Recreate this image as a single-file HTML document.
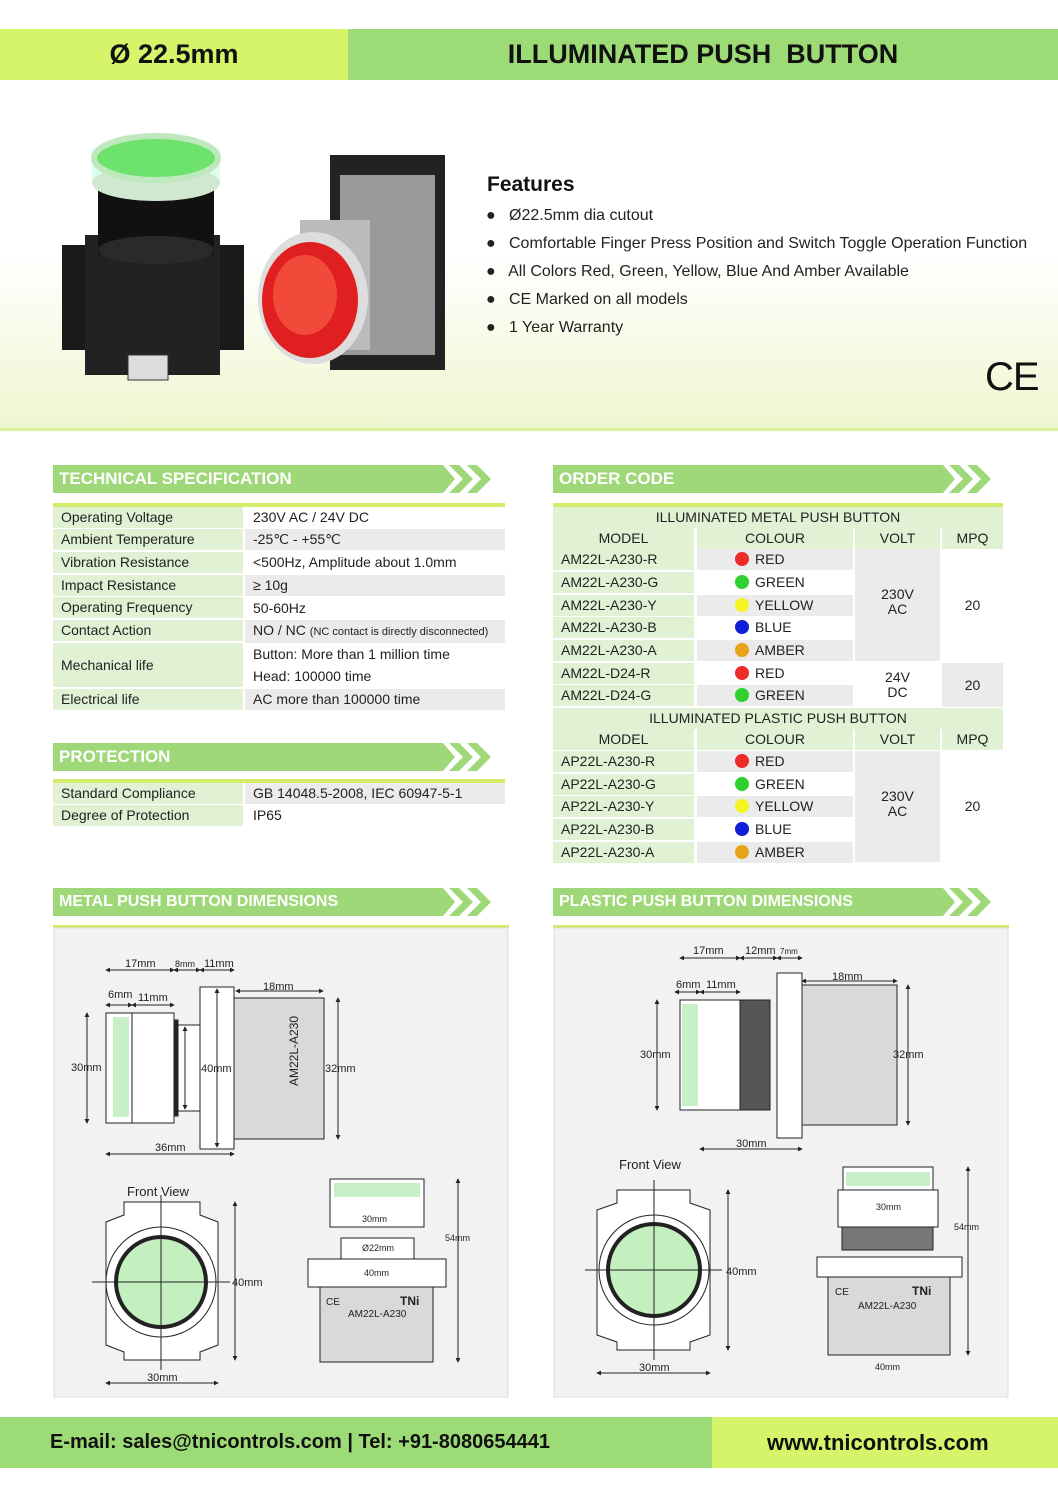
<!DOCTYPE html>
<html><head><meta charset="utf-8"><style>
*{margin:0;padding:0;box-sizing:border-box}
body{width:1058px;height:1497px;position:relative;background:#fff;font-family:"Liberation Sans",sans-serif;overflow:hidden}
.a{position:absolute}
.hd{position:absolute;height:28px;background:#9ed878;color:#fff;font-weight:bold;font-size:17px;line-height:28px;padding-left:6px}
.ln{position:absolute;height:4px;background:#d3ec6a}
.c{position:absolute;font-size:14px;line-height:21px;color:#222;padding-left:8px;white-space:nowrap}
.g{background:#e0f1d4}.w{background:#fff}.k{background:#ebebeb}
.ct{text-align:center;padding-left:0}
.dot{display:inline-block;width:14px;height:14px;border-radius:50%;vertical-align:-2px;margin-right:6px}
</style></head><body>
<div class="a" style="left:0;top:80px;width:1058px;height:350px;background:linear-gradient(#fff 0%,#fff 50%,#eef6cf 100%)"></div>
<div class="a" style="left:0;top:428px;width:1058px;height:3px;background:#d9ef9a"></div>
<div class="a" style="left:0;top:29px;width:348px;height:51px;background:#d5f46a;text-align:center;font-weight:bold;font-size:27px;line-height:51px;color:#111">Ø 22.5mm</div>
<div class="a" style="left:348px;top:29px;width:710px;height:51px;background:#9ddb76;text-align:center;font-weight:bold;font-size:27px;line-height:51px;color:#111">ILLUMINATED PUSH&nbsp; BUTTON</div>

<svg class="a" style="left:50px;top:125px" width="420" height="270" viewBox="50 125 420 270">
<rect x="62" y="245" width="182" height="105" fill="#1a1a1a"/>
<rect x="85" y="235" width="135" height="140" fill="#222"/>
<rect x="128" y="355" width="40" height="25" fill="#ddd" stroke="#333"/>
<rect x="98" y="170" width="116" height="85" fill="#111"/>
<ellipse cx="156" cy="250" rx="58" ry="14" fill="#2a2a2a"/>
<rect x="92" y="150" width="128" height="35" fill="#dfe"/>
<ellipse cx="156" cy="183" rx="64" ry="18" fill="#cfe8cf"/>
<ellipse cx="156" cy="158" rx="62" ry="22" fill="#6de36d" stroke="#bfe8bf" stroke-width="6"/>
<rect x="330" y="155" width="115" height="215" fill="#222"/>
<rect x="340" y="175" width="95" height="180" fill="#9a9a9a"/>
<rect x="300" y="220" width="70" height="130" fill="#bbb"/>
<ellipse cx="313" cy="298" rx="55" ry="66" fill="#ddd"/>
<ellipse cx="310" cy="300" rx="48" ry="58" fill="#e02020"/>
<ellipse cx="305" cy="295" rx="32" ry="40" fill="#f24a3a"/>
</svg>

<div class="a" style="left:487px;top:173px;font-weight:bold;font-size:21px;color:#111">Features</div>
<div class="a" style="left:486px;top:202px;font-size:16px;line-height:28px;color:#222">
<div>●&nbsp;&nbsp; Ø22.5mm dia cutout</div>
<div>●&nbsp;&nbsp; Comfortable Finger Press Position and Switch Toggle Operation Function</div>
<div>●&nbsp;&nbsp; All Colors Red, Green, Yellow, Blue And Amber Available</div>
<div>●&nbsp;&nbsp; CE Marked on all models</div>
<div>●&nbsp;&nbsp; 1 Year Warranty</div>
</div>
<div class="a" style="left:985px;top:355px;font-size:40px;color:#111;letter-spacing:-1px">CE</div>

<div class="hd" style="left:53px;top:465px;width:385px">TECHNICAL SPECIFICATION</div>
<svg class="a" style="left:435px;top:465px" width="60" height="30"><polygon points="0,0 8,0 20,14 8,28 0,28" fill="#9ed878"/><polygon points="14,0 24,0 38,14 24,28 14,28 28,14" fill="#9ed878"/><polygon points="32,0 42,0 56,14 42,28 32,28 46,14" fill="#9ed878"/></svg>
<div class="ln" style="left:53px;top:503px;width:452px"></div>
<div class="c g" style="left:53px;top:507px;width:190px">Operating Voltage</div><div class="c w" style="left:245px;top:507px;width:260px">230V AC / 24V DC</div>
<div class="c g" style="left:53px;top:529px;width:190px">Ambient Temperature</div><div class="c k" style="left:245px;top:529px;width:260px">-25℃ - +55℃</div>
<div class="c g" style="left:53px;top:552px;width:190px">Vibration Resistance</div><div class="c w" style="left:245px;top:552px;width:260px">&lt;500Hz, Amplitude about 1.0mm</div>
<div class="c g" style="left:53px;top:575px;width:190px">Impact Resistance</div><div class="c k" style="left:245px;top:575px;width:260px">≥ 10g</div>
<div class="c g" style="left:53px;top:597px;width:190px">Operating Frequency</div><div class="c w" style="left:245px;top:598px;width:260px">50-60Hz</div>
<div class="c g" style="left:53px;top:620px;width:190px">Contact Action</div><div class="c k" style="left:245px;top:620px;width:260px">NO / NC <span style="font-size:11px">(NC contact is directly disconnected)</span></div>
<div class="c g" style="left:53px;top:643px;width:190px;height:44px;line-height:44px">Mechanical life</div><div class="c w" style="left:245px;top:643px;width:260px;height:44px;line-height:22px">Button: More than 1 million time<br>Head: 100000 time</div>
<div class="c g" style="left:53px;top:689px;width:190px">Electrical life</div><div class="c k" style="left:245px;top:689px;width:260px">AC more than 100000 time</div>

<div class="hd" style="left:53px;top:743px;width:385px">PROTECTION</div>
<svg class="a" style="left:435px;top:743px" width="60" height="30"><polygon points="0,0 8,0 20,14 8,28 0,28" fill="#9ed878"/><polygon points="14,0 24,0 38,14 24,28 14,28 28,14" fill="#9ed878"/><polygon points="32,0 42,0 56,14 42,28 32,28 46,14" fill="#9ed878"/></svg>
<div class="ln" style="left:53px;top:779px;width:452px"></div>
<div class="c g" style="left:53px;top:783px;width:190px">Standard Compliance</div><div class="c k" style="left:245px;top:783px;width:260px">GB 14048.5-2008, IEC 60947-5-1</div>
<div class="c g" style="left:53px;top:805px;width:190px">Degree of Protection</div><div class="c w" style="left:245px;top:805px;width:260px">IP65</div>

<div class="hd" style="left:553px;top:465px;width:385px">ORDER CODE</div>
<svg class="a" style="left:935px;top:465px" width="60" height="30"><polygon points="0,0 8,0 20,14 8,28 0,28" fill="#9ed878"/><polygon points="14,0 24,0 38,14 24,28 14,28 28,14" fill="#9ed878"/><polygon points="32,0 42,0 56,14 42,28 32,28 46,14" fill="#9ed878"/></svg>
<div class="ln" style="left:553px;top:503px;width:450px"></div>
<div class="c g ct" style="left:553px;top:507px;width:450px">ILLUMINATED METAL PUSH BUTTON</div>
<div class="c g ct" style="left:553px;top:528px;width:141px">MODEL</div><div class="c g ct" style="left:697px;top:528px;width:156px">COLOUR</div><div class="c g ct" style="left:855px;top:528px;width:85px">VOLT</div><div class="c g ct" style="left:942px;top:528px;width:61px">MPQ</div>
<div class="c g" style="left:553px;top:549px;width:141px">AM22L-A230-R</div><div class="c k" style="left:697px;top:549px;width:156px;padding-left:38px"><span class="dot" style="background:#ee2b2b"></span>RED</div>
<div class="c g" style="left:553px;top:572px;width:141px">AM22L-A230-G</div><div class="c w" style="left:697px;top:572px;width:156px;padding-left:38px"><span class="dot" style="background:#2ed12e"></span>GREEN</div>
<div class="c g" style="left:553px;top:595px;width:141px">AM22L-A230-Y</div><div class="c k" style="left:697px;top:595px;width:156px;padding-left:38px"><span class="dot" style="background:#f4f420"></span>YELLOW</div>
<div class="c g" style="left:553px;top:617px;width:141px">AM22L-A230-B</div><div class="c w" style="left:697px;top:617px;width:156px;padding-left:38px"><span class="dot" style="background:#1020d8"></span>BLUE</div>
<div class="c g" style="left:553px;top:640px;width:141px">AM22L-A230-A</div><div class="c k" style="left:697px;top:640px;width:156px;padding-left:38px"><span class="dot" style="background:#e8a418"></span>AMBER</div>
<div class="c k ct" style="left:855px;top:549px;width:85px;height:112px;padding-top:38px;line-height:15px">230V<br>AC</div>
<div class="c w ct" style="left:942px;top:549px;width:61px;height:112px;line-height:112px">20</div>
<div class="c g" style="left:553px;top:663px;width:141px">AM22L-D24-R</div><div class="c w" style="left:697px;top:663px;width:156px;padding-left:38px"><span class="dot" style="background:#ee2b2b"></span>RED</div>
<div class="c g" style="left:553px;top:685px;width:141px">AM22L-D24-G</div><div class="c k" style="left:697px;top:685px;width:156px;padding-left:38px"><span class="dot" style="background:#2ed12e"></span>GREEN</div>
<div class="c w ct" style="left:855px;top:663px;width:85px;height:44px;padding-top:7px;line-height:15px">24V<br>DC</div>
<div class="c k ct" style="left:942px;top:663px;width:61px;height:44px;line-height:44px">20</div>

<div class="c g ct" style="left:553px;top:708px;width:450px">ILLUMINATED PLASTIC PUSH BUTTON</div>
<div class="c g ct" style="left:553px;top:729px;width:141px">MODEL</div><div class="c g ct" style="left:697px;top:729px;width:156px">COLOUR</div><div class="c g ct" style="left:855px;top:729px;width:85px">VOLT</div><div class="c g ct" style="left:942px;top:729px;width:61px">MPQ</div>
<div class="c g" style="left:553px;top:751px;width:141px">AP22L-A230-R</div><div class="c k" style="left:697px;top:751px;width:156px;padding-left:38px"><span class="dot" style="background:#ee2b2b"></span>RED</div>
<div class="c g" style="left:553px;top:774px;width:141px">AP22L-A230-G</div><div class="c w" style="left:697px;top:774px;width:156px;padding-left:38px"><span class="dot" style="background:#2ed12e"></span>GREEN</div>
<div class="c g" style="left:553px;top:796px;width:141px">AP22L-A230-Y</div><div class="c k" style="left:697px;top:796px;width:156px;padding-left:38px"><span class="dot" style="background:#f4f420"></span>YELLOW</div>
<div class="c g" style="left:553px;top:819px;width:141px">AP22L-A230-B</div><div class="c w" style="left:697px;top:819px;width:156px;padding-left:38px"><span class="dot" style="background:#1020d8"></span>BLUE</div>
<div class="c g" style="left:553px;top:842px;width:141px">AP22L-A230-A</div><div class="c k" style="left:697px;top:842px;width:156px;padding-left:38px"><span class="dot" style="background:#e8a418"></span>AMBER</div>
<div class="c k ct" style="left:855px;top:751px;width:85px;height:111px;padding-top:38px;line-height:15px">230V<br>AC</div>
<div class="c w ct" style="left:942px;top:751px;width:61px;height:111px;line-height:111px">20</div>

<div class="hd" style="left:53px;top:888px;width:385px;font-size:16px">METAL PUSH BUTTON DIMENSIONS</div>
<svg class="a" style="left:435px;top:888px" width="60" height="30"><polygon points="0,0 8,0 20,14 8,28 0,28" fill="#9ed878"/><polygon points="14,0 24,0 38,14 24,28 14,28 28,14" fill="#9ed878"/><polygon points="32,0 42,0 56,14 42,28 32,28 46,14" fill="#9ed878"/></svg>
<div class="hd" style="left:553px;top:888px;width:385px;font-size:16px">PLASTIC PUSH BUTTON DIMENSIONS</div>
<svg class="a" style="left:935px;top:888px" width="60" height="30"><polygon points="0,0 8,0 20,14 8,28 0,28" fill="#9ed878"/><polygon points="14,0 24,0 38,14 24,28 14,28 28,14" fill="#9ed878"/><polygon points="32,0 42,0 56,14 42,28 32,28 46,14" fill="#9ed878"/></svg>

<svg class="a" style="left:0;top:920px" width="1058" height="485" viewBox="0 920 1058 485" font-family="Liberation Sans" font-size="11" fill="#222">
<defs><marker id="ar" viewBox="0 0 6 6" refX="5" refY="3" markerWidth="5" markerHeight="5" orient="auto-start-reverse"><path d="M0,0L6,3L0,6z" fill="#222"/></marker></defs>
<rect x="53" y="925" width="456" height="3" fill="#d3ec6a"/><rect x="553" y="925" width="456" height="3" fill="#d3ec6a"/>
<rect x="54" y="928" width="454" height="469" fill="#f2f2f2" stroke="#ddd"/>
<rect x="554" y="928" width="454" height="469" fill="#f2f2f2" stroke="#ddd"/>
<g stroke="#222" stroke-width="1">
<rect x="106" y="1013" width="26" height="110" fill="#fff"/><rect x="113" y="1017" width="16" height="100" fill="#c8f0c8" stroke="none"/>
<rect x="132" y="1013" width="42" height="110" fill="#fff"/>
<rect x="174" y="1020" width="4" height="96" fill="#222"/>
<rect x="178" y="1025" width="22" height="86" fill="#fff"/>
<rect x="200" y="987" width="34" height="162" fill="#fff"/>
<rect x="234" y="998" width="90" height="141" fill="#d9d9d9"/>
<line x1="106" y1="970" x2="174" y2="970" marker-start="url(#ar)" marker-end="url(#ar)"/>
<line x1="174" y1="970" x2="200" y2="970" marker-start="url(#ar)" marker-end="url(#ar)"/>
<line x1="200" y1="970" x2="234" y2="970" marker-start="url(#ar)" marker-end="url(#ar)"/>
<line x1="106" y1="1005" x2="132" y2="1005" marker-start="url(#ar)" marker-end="url(#ar)"/>
<line x1="132" y1="1005" x2="174" y2="1005" marker-start="url(#ar)" marker-end="url(#ar)"/>
<line x1="236" y1="991" x2="323" y2="991" marker-start="url(#ar)" marker-end="url(#ar)"/>
<line x1="87" y1="1013" x2="87" y2="1123" marker-start="url(#ar)" marker-end="url(#ar)"/>
<line x1="217" y1="989" x2="217" y2="1147" marker-start="url(#ar)" marker-end="url(#ar)"/>
<line x1="185" y1="1027" x2="185" y2="1109" marker-start="url(#ar)" marker-end="url(#ar)"/>
<line x1="338" y1="998" x2="338" y2="1139" marker-start="url(#ar)" marker-end="url(#ar)"/>
<line x1="106" y1="1154" x2="234" y2="1154" marker-start="url(#ar)" marker-end="url(#ar)"/>
<path d="M124,1202 H200 V1215 L218,1222 V1345 L200,1352 V1360 H124 V1352 L106,1345 V1222 L124,1215Z" fill="#fff"/>
<circle cx="161" cy="1282" r="55" fill="#fff"/>
<circle cx="161" cy="1282" r="45" fill="#c4efbe" stroke-width="4"/>
<line x1="92" y1="1282" x2="230" y2="1282"/><line x1="161" y1="1195" x2="161" y2="1370"/>
<line x1="235" y1="1202" x2="235" y2="1360" marker-start="url(#ar)" marker-end="url(#ar)"/>
<line x1="106" y1="1383" x2="218" y2="1383" marker-start="url(#ar)" marker-end="url(#ar)"/>
<rect x="330" y="1179" width="94" height="48" fill="#fff"/><rect x="334" y="1183" width="86" height="14" fill="#c8f0c8" stroke="none"/>
<rect x="341" y="1238" width="73" height="21" fill="#fff"/>
<rect x="308" y="1259" width="138" height="28" fill="#fff"/>
<rect x="320" y="1287" width="113" height="75" fill="#d9d9d9"/>
<line x1="458" y1="1179" x2="458" y2="1362" marker-start="url(#ar)" marker-end="url(#ar)"/>
<rect x="680" y="1000" width="60" height="110" fill="#fff"/><rect x="682" y="1004" width="16" height="102" fill="#c8f0c8" stroke="none"/>
<rect x="740" y="1000" width="30" height="110" fill="#555"/>
<rect x="777" y="973" width="25" height="165" fill="#fff"/>
<rect x="802" y="985" width="95" height="140" fill="#d9d9d9"/>
<line x1="680" y1="958" x2="740" y2="958" marker-start="url(#ar)" marker-end="url(#ar)"/>
<line x1="740" y1="958" x2="777" y2="958" marker-start="url(#ar)" marker-end="url(#ar)"/>
<line x1="777" y1="958" x2="802" y2="958" marker-start="url(#ar)" marker-end="url(#ar)"/>
<line x1="675" y1="992" x2="700" y2="992" marker-start="url(#ar)" marker-end="url(#ar)"/>
<line x1="700" y1="992" x2="740" y2="992" marker-start="url(#ar)" marker-end="url(#ar)"/>
<line x1="802" y1="981" x2="897" y2="981" marker-start="url(#ar)" marker-end="url(#ar)"/>
<line x1="657" y1="1000" x2="657" y2="1110" marker-start="url(#ar)" marker-end="url(#ar)"/>
<line x1="908" y1="985" x2="908" y2="1125" marker-start="url(#ar)" marker-end="url(#ar)"/>
<line x1="700" y1="1149" x2="802" y2="1149" marker-start="url(#ar)" marker-end="url(#ar)"/>
<path d="M617,1190 H690 V1203 L710,1210 V1335 L690,1342 V1350 H617 V1342 L597,1335 V1210 L617,1203Z" fill="#fff"/>
<circle cx="654" cy="1270" r="55" fill="#fff"/>
<circle cx="654" cy="1270" r="46" fill="#c4efbe" stroke-width="4"/>
<line x1="585" y1="1270" x2="722" y2="1270"/><line x1="654" y1="1180" x2="654" y2="1360"/>
<line x1="728" y1="1190" x2="728" y2="1350" marker-start="url(#ar)" marker-end="url(#ar)"/>
<line x1="597" y1="1373" x2="710" y2="1373" marker-start="url(#ar)" marker-end="url(#ar)"/>
<rect x="843" y="1167" width="90" height="23" fill="#fff"/><rect x="846" y="1172" width="84" height="14" fill="#c8f0c8" stroke="none"/>
<rect x="838" y="1190" width="100" height="37" fill="#fff"/>
<rect x="842" y="1227" width="91" height="23" fill="#777"/>
<rect x="817" y="1257" width="145" height="20" fill="#fff"/>
<rect x="828" y="1277" width="122" height="78" fill="#d9d9d9"/>
<line x1="968" y1="1167" x2="968" y2="1355" marker-start="url(#ar)" marker-end="url(#ar)"/>
</g>
<g>
<text x="125" y="967">17mm</text><text x="175" y="967" font-size="9">8mm</text><text x="204" y="967">11mm</text>
<text x="108" y="998">6mm</text><text x="138" y="1001">11mm</text><text x="263" y="990">18mm</text>
<text x="71" y="1071">30mm</text><text x="201" y="1072">40mm</text><text x="325" y="1072">32mm</text><text x="155" y="1151">36mm</text>
<text x="252" y="1100" transform="rotate(-90 268 1070)" font-size="12">AM22L-A230</text>
<text x="127" y="1196" font-size="13">Front View</text><text x="232" y="1286">40mm</text><text x="147" y="1381">30mm</text>
<text x="362" y="1222" font-size="9">30mm</text><text x="362" y="1251" font-size="9">Ø22mm</text><text x="364" y="1276" font-size="9">40mm</text>
<text x="445" y="1241" font-size="9">54mm</text><text x="348" y="1317" font-size="10">AM22L-A230</text><text x="400" y="1305" font-weight="bold" font-size="12">TNi</text><text x="326" y="1305" font-size="10">CE</text>
<text x="693" y="954">17mm</text><text x="745" y="954">12mm</text><text x="780" y="954" font-size="8">7mm</text>
<text x="676" y="988">6mm</text><text x="706" y="988">11mm</text><text x="832" y="980">18mm</text>
<text x="640" y="1058">30mm</text><text x="893" y="1058">32mm</text><text x="736" y="1147">30mm</text>
<text x="619" y="1169" font-size="13">Front View</text><text x="726" y="1275">40mm</text><text x="639" y="1371">30mm</text>
<text x="876" y="1210" font-size="9">30mm</text><text x="954" y="1230" font-size="9">54mm</text><text x="875" y="1370" font-size="9">40mm</text>
<text x="858" y="1309" font-size="10">AM22L-A230</text><text x="912" y="1295" font-weight="bold" font-size="12">TNi</text><text x="835" y="1295" font-size="10">CE</text>
</g>
</svg>

<div class="a" style="left:0;top:1417px;width:712px;height:51px;background:#9ddb76;font-weight:bold;font-size:20px;line-height:51px;padding-left:50px;color:#111">E-mail: sales@tnicontrols.com | Tel: +91-8080654441</div>
<div class="a" style="left:712px;top:1417px;width:346px;height:51px;background:#d5f46a;font-weight:bold;font-size:22px;line-height:51px;padding-left:55px;color:#111">www.tnicontrols.com</div>
</body></html>
